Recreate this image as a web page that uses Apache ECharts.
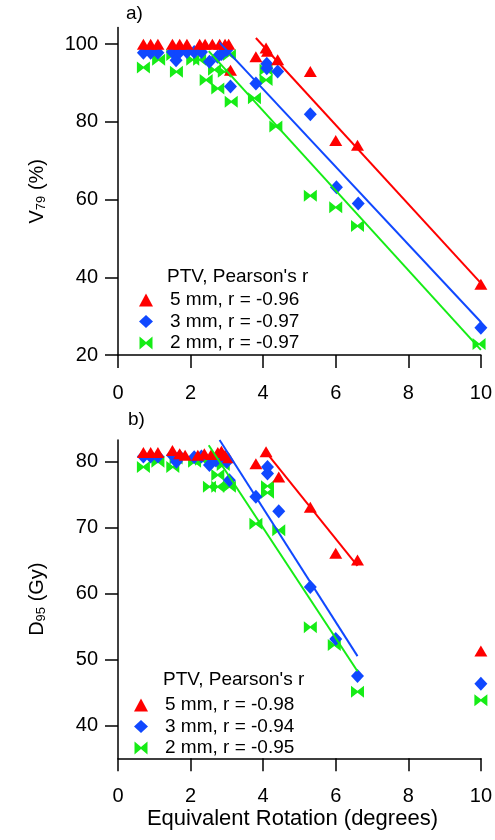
<!DOCTYPE html>
<html>
<head>
<meta charset="utf-8">
<script src="https://cdn.jsdelivr.net/npm/echarts@6/dist/echarts.min.js"></script>
<style>
  html, body { margin: 0; padding: 0; background: #fff; }
  #chart { width: 495px; height: 840px; }
</style>
</head>
<body>
<div id="chart"></div>
<script>
// panel a) V79 (%)
var a5x = [0.7, 0.9, 1.1, 1.5, 1.7, 1.9, 2.25, 2.4, 2.6, 2.8, 2.95, 3.05, 3.1, 3.8, 4.08, 4.12, 4.4, 5.3, 6.0, 6.6, 10];
var a5y = [100, 100, 100, 100, 100, 100, 100, 100, 100, 100, 100, 100, 93.3, 96.8, 99, 98.2, 96, 93, 75.2, 74, 38.2];
var a3x = [0.7, 0.9, 1.1, 1.5, 1.6, 1.7, 1.9, 2.1, 2.3, 2.52, 2.74, 2.85, 3.0, 3.1, 3.8, 4.1, 4.1, 4.4, 5.3, 6.02, 6.62, 10];
var a3y = [97.8, 97.8, 97.8, 98, 95.9, 98, 98, 98, 98, 95.5, 96.8, 97.5, 98.5, 89.1, 89.9, 95, 93.8, 93, 82, 63.2, 59, 27];
var a2x = [0.7, 1.12, 1.51, 1.61, 1.79, 2.06, 2.25, 2.43, 2.66, 2.75, 2.93, 3.07, 3.12, 3.76, 4.08, 4.08, 4.35, 5.3, 6.0, 6.6, 9.95, 10.05];
var a2y = [94, 96, 97.2, 92.9, 97.7, 96, 96, 90.8, 93.4, 88.6, 92.9, 97.2, 85.2, 86.1, 90.8, 93.4, 78.8, 61, 58, 53.2, 22.8, 22.8];
// fitted lines, panel a) [x0, x1], [y0, y1]
var aFit5x = [3.8, 10], aFit5y = [101.6, 38.5];
var aFit3x = [2.8, 10], aFit3y = [100.4, 28.5];
var aFit2x = [2.5, 10], aFit2y = [98.2, 21.3];

// panel b) D95 (Gy)
var b5x = [0.7, 0.9, 1.1, 1.5, 1.7, 1.85, 2.2, 2.38, 2.57, 2.75, 2.85, 2.95, 3.05, 3.8, 4.08, 4.43, 5.3, 6.0, 6.6, 10];
var b5y = [81.4, 81.4, 81.4, 81.7, 81.2, 81, 81, 81.2, 81.1, 81.4, 81.6, 81, 80.6, 79.7, 81.5, 77.7, 73.1, 66.1, 65.1, 51.3];
var b3x = [0.7, 0.9, 1.1, 1.5, 1.61, 1.7, 2.1, 2.3, 2.52, 2.7, 2.85, 3.0, 3.07, 3.8, 4.12, 4.12, 4.43, 5.3, 6.0, 6.6, 10];
var b3y = [80.8, 80.8, 80.8, 81, 80, 80.8, 80.7, 80.8, 79.5, 80.2, 81, 80, 77.2, 74.7, 79.2, 78.2, 72.5, 61, 53.1, 47.5, 46.3];
var b2x = [0.7, 1.1, 1.51, 1.6, 2.11, 2.3, 2.52, 2.75, 2.75, 2.9, 3.07, 3.8, 4.12, 4.12, 4.43, 5.3, 5.96, 6.6, 10];
var b2y = [79.2, 80, 79.2, 80.5, 80, 80.3, 76.2, 78, 76.2, 79.5, 76.2, 70.6, 76.3, 75.3, 69.6, 54.9, 52.2, 45.1, 43.8];
var bFit5x = [4.1, 6.6], bFit5y = [81.3, 64.2];
var bFit3x = [2.8, 6.6], bFit3y = [83.3, 50.5];
var bFit2x = [2.5, 6.6], bFit2y = [82.5, 48.2];

var xTicks = [0, 2, 4, 6, 8, 10];
var aTicks = [20, 40, 60, 80, 100];
var bTicks = [40, 50, 60, 70, 80];
var aNames = ['5 mm, r = -0.96', '3 mm, r = -0.97', '2 mm, r = -0.97'];
var bNames = ['5 mm, r = -0.98', '3 mm, r = -0.94', '2 mm, r = -0.95'];

var RED = '#ff0000', BLUE = '#1048ff', GREEN = '#16ec16';
var BOWTIE = 'path://M0,0L5,4.2L5,5.8L0,10ZM10,0L5,4.2L5,5.8L10,10Z';
var FONT = 'Liberation Sans';

function pts(xs, ys) {
  return xs.map(function (x, i) { return [x, ys[i]]; });
}

function marks(name, idx, xs, ys, color, symbol, size) {
  return {
    name: name, type: 'scatter', xAxisIndex: idx, yAxisIndex: idx,
    data: pts(xs, ys), symbol: symbol, symbolSize: size,
    itemStyle: { color: color, opacity: 1 }, silent: true, z: 3
  };
}
function fit(name, idx, xs, ys, color) {
  return {
    name: name, type: 'line', xAxisIndex: idx, yAxisIndex: idx,
    data: pts(xs, ys), symbol: 'none',
    lineStyle: { color: color, width: 2 }, silent: true, z: 4
  };
}

var axisLine = { show: true, onZero: false, lineStyle: { color: '#000', width: 1.5 } };
var axisTick = { show: true, inside: false, length: 13, lineStyle: { color: '#000', width: 1.5 } };

function xAx(idx, withName) {
  var o = {
    type: 'value', gridIndex: idx, min: 0, max: 10, interval: 2,
    axisLine: axisLine, axisTick: axisTick, splitLine: { show: false },
    axisLabel: { color: '#000', fontSize: 20, fontFamily: FONT, margin: 28 }
  };
  if (withName) {
    o.name = 'Equivalent Rotation (degrees)';
    o.nameLocation = 'middle';
    o.nameGap = 50;
    o.nameTextStyle = { color: '#000', fontSize: 22, fontFamily: FONT, padding: [0, 14, 0, 0] };
  }
  return o;
}
function yAx(idx, min, max, ticks, main, sub, rest) {
  return {
    type: 'value', gridIndex: idx, min: min, max: max,
    axisLine: axisLine, splitLine: { show: false },
    axisTick: Object.assign({ customValues: ticks }, axisTick),
    axisLabel: { color: '#000', fontSize: 20, fontFamily: FONT, margin: 20, customValues: ticks },
    name: '{m|' + main + '}{s|' + sub + '}{m|' + rest + '}',
    nameLocation: 'middle', nameRotate: 90, nameGap: 70,
    nameTextStyle: {
      rich: {
        m: { fontSize: 20, fontFamily: FONT, color: '#000' },
        s: { fontSize: 13, fontFamily: FONT, color: '#000', padding: [8, 0, 0, 0] }
      }
    }
  };
}

var legendText = { color: '#000', fontSize: 19, fontFamily: FONT, lineHeight: 20, padding: [0, 0, 0, 12] };

var chart = echarts.init(document.getElementById('chart'), null, { renderer: 'canvas' });
chart.setOption({
  backgroundColor: '#fff',
  animation: false,
  grid: [
    { left: 118, right: 13, top: 27.5, height: 327.5 },
    { left: 118, right: 13, top: 440, height: 318.3 }
  ],
  xAxis: [xAx(0, false), xAx(1, true)],
  yAxis: [
    yAx(0, 20, 104.3, aTicks, 'V', '79', ' (%)'),
    yAx(1, 35, 83.3, bTicks, 'D', '95', ' (Gy)')
  ],
  legend: [
    {
      data: aNames, orient: 'vertical', left: 134, top: 285, itemGap: 1.5,
      itemWidth: 14, itemHeight: 13, textStyle: legendText, selectedMode: false
    },
    {
      data: bNames, orient: 'vertical', left: 129, top: 690, itemGap: 1.5,
      itemWidth: 14, itemHeight: 13, textStyle: legendText, selectedMode: false
    }
  ],
  graphic: [
    { type: 'text', left: 126, top: 4, style: { text: 'a)', fontSize: 19, fontFamily: FONT, fill: '#000' } },
    { type: 'text', left: 128, top: 410, style: { text: 'b)', fontSize: 19, fontFamily: FONT, fill: '#000' } },
    { type: 'text', left: 167, top: 267, style: { text: "PTV, Pearson's r", fontSize: 19, fontFamily: FONT, fill: '#000' } },
    { type: 'text', left: 163, top: 670, style: { text: "PTV, Pearson's r", fontSize: 19, fontFamily: FONT, fill: '#000' } }
  ],
  series: [
    marks(aNames[2], 0, a2x, a2y, GREEN, BOWTIE, [13, 12]),
    marks(aNames[1], 0, a3x, a3y, BLUE, 'diamond', [13, 14]),
    marks(aNames[0], 0, a5x, a5y, RED, 'triangle', [13, 11]),
    fit('fit a5', 0, aFit5x, aFit5y, RED),
    fit('fit a3', 0, aFit3x, aFit3y, BLUE),
    fit('fit a2', 0, aFit2x, aFit2y, GREEN),
    marks(bNames[2], 1, b2x, b2y, GREEN, BOWTIE, [13, 12]),
    marks(bNames[1], 1, b3x, b3y, BLUE, 'diamond', [13, 14]),
    marks(bNames[0], 1, b5x, b5y, RED, 'triangle', [13, 11]),
    fit('fit b5', 1, bFit5x, bFit5y, RED),
    fit('fit b3', 1, bFit3x, bFit3y, BLUE),
    fit('fit b2', 1, bFit2x, bFit2y, GREEN)
  ]
});
</script>
</body>
</html>
